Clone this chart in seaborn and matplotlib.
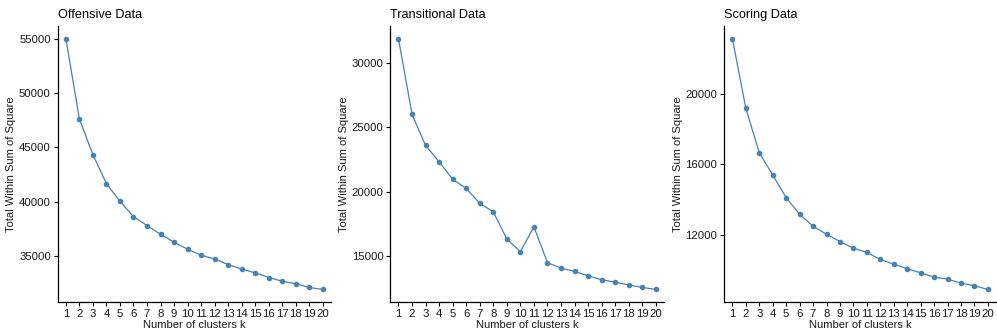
import matplotlib
matplotlib.use("Agg")
import matplotlib.pyplot as plt
import seaborn as sns
import pandas as pd

k = list(range(1, 21))
offensive = [55000, 47620, 44310, 41650, 40020, 38610, 37790, 36990, 36260, 35610,
             35060, 34720, 34200, 33780, 33440, 33010, 32670, 32430, 32090, 31910]
transitional = [31890, 26020, 23590, 22320, 20970, 20250, 19090, 18440, 16320, 15340,
                17280, 14480, 14070, 13810, 13470, 13160, 12980, 12750, 12570, 12410]
scoring = [23170, 19190, 16660, 15390, 14100, 13160, 12470, 12020, 11600, 11220,
           10980, 10580, 10310, 10050, 9820, 9570, 9460, 9230, 9080, 8870]
titles = ["Offensive Data", "Transitional Data", "Scoring Data"]
yticks = [[35000, 40000, 45000, 50000, 55000],
          [15000, 20000, 25000, 30000],
          [12000, 16000, 20000]]

sns.set_theme(style="ticks")
plt.rcParams['font.family'] = ['Liberation Sans', 'DejaVu Sans']

fig = plt.figure(figsize=(9.97, 3.35), dpi=100)
lefts = [0.0579, 0.3915, 0.7265]
widths = [0.274, 0.2745, 0.2725]
series = [offensive, transitional, scoring]

for i in range(3):
    ax = fig.add_axes([lefts[i], 0.0985, widths[i], 0.824])
    df = pd.DataFrame({"k": k, "wss": series[i]})
    sns.lineplot(data=df, x="k", y="wss", ax=ax, color="#4682B4", marker="o",
                 markersize=4, markeredgewidth=0, linewidth=0.9)
    vals = series[i]
    lo, hi = min(vals), max(vals)
    pad = (hi - lo) * 0.05
    ax.set_ylim(lo - pad, hi + pad)
    ax.set_xlim(0.4, 20.6)
    ax.set_xticks(k)
    ax.set_xticklabels([str(v) for v in k])
    ax.set_yticks(yticks[i])
    ax.set_yticklabels([str(v) for v in yticks[i]])
    ax.tick_params(axis="both", labelsize=8.2, length=3, width=0.8, color="black",
                   labelcolor="#1a1a1a", pad=2)
    for s in ["top", "right"]:
        ax.spines[s].set_visible(False)
    for s in ["left", "bottom"]:
        ax.spines[s].set_color("black")
        ax.spines[s].set_linewidth(0.9)
    ax.set_xlabel("Number of clusters k", fontsize=8, color="#1a1a1a", labelpad=0.5)
    ax.set_ylabel("Total Within Sum of Square", fontsize=8, color="#1a1a1a", labelpad=2)
    ax.set_title(titles[i], loc="left", fontsize=9.2, color="black", pad=6)

fig.savefig("out.png", dpi=100)
